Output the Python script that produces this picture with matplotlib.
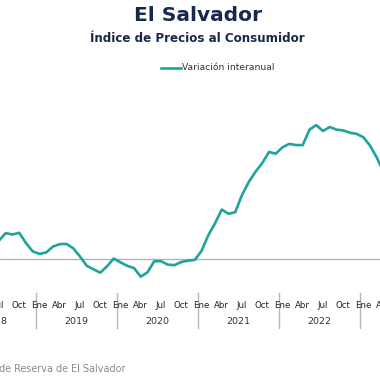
import matplotlib
matplotlib.use("Agg")
import matplotlib.pyplot as plt
import matplotlib.transforms as mtransforms

# Monthly year-on-year CPI variation (%) from Jun 2018 to Apr 2023
start_year, start_month = 2018, 6
values = [
    0.80, 1.05, 1.48, 1.40, 1.50, 0.90, 0.42,              # Jun-Dec 2018
    0.27, 0.36, 0.70, 0.84, 0.85, 0.60, 0.12, -0.42, -0.62, -0.82, -0.45, 0.00,   # 2019
    -0.22, -0.42, -0.55, -1.05, -0.80, -0.15, -0.15, -0.35, -0.38, -0.20, -0.12, -0.08,  # 2020
    0.45, 1.35, 2.05, 2.85, 2.60, 2.70, 3.70, 4.45, 5.05, 5.55, 6.20, 6.10,  # 2021
    6.47, 6.67, 6.60, 6.60, 7.50, 7.76, 7.42, 7.65, 7.50, 7.45, 7.32, 7.25,  # 2022
    7.05, 6.55, 5.85, 5.00,                                   # Jan-Apr 2023
]
month_labels = ["Ene", "Abr", "Jul", "Oct"]
month_label_idx = [0, 3, 6, 9]
years = [2018, 2019, 2020, 2021, 2022, 2023]
series_name = "Variación interanual"
title = "El Salvador"
subtitle = "Índice de Precios al Consumidor"
source = "Fuente: Banco Central de Reserva de El Salvador"

# month index relative to Jan 2019
offset = (start_year - 2019) * 12 + (start_month - 1)
xs = [offset + i for i in range(len(values))]

plt.rcParams['font.family'] = ['DejaVu Sans']

fig = plt.figure(figsize=(3.8, 3.8), dpi=100)
W = H = 380.0
px_per_month = 6.75
x0_px = 39.5
ax_left, ax_right = -x0_px / px_per_month, (W - x0_px) / px_per_month
ax_bottom_px, ax_top_px = 293.0, 86.6
ax = fig.add_axes([0, (H - ax_bottom_px) / H, 1, (ax_bottom_px - ax_top_px) / H])
ax.set_xlim(ax_left, ax_right)
ax.set_ylim(-2, 10)
ax.axis('off')

teal = '#1fa39b'
ax.axhline(0, color='#b3b3b3', lw=1.0, zorder=1)
ax.plot(xs, values, color=teal, lw=1.9, solid_joinstyle='round', solid_capstyle='round', zorder=3)

# x-axis category labels
trans = mtransforms.blended_transform_factory(ax.transData, fig.transFigure)
for yi, yr in enumerate(years):
    base = (yr - 2019) * 12
    for lab, mi in zip(month_labels, month_label_idx):
        ax.text(base + mi, 1 - 305 / H, lab, transform=trans, ha='center', va='center',
                fontsize=6.2, color='#222222', clip_on=False)
    ax.text(base + 5.5, 1 - 322 / H, str(yr), transform=trans, ha='center', va='center',
            fontsize=6.8, color='#333333', clip_on=False)
    sep = base - 0.5
    ax.plot([sep, sep], [1 - 293 / H, 1 - 328 / H], transform=trans, color='#b8b8b8',
            lw=1.0, clip_on=False)

navy = '#16294a'
fig.text(197.5 / W, 1 - 15.5 / H, title, ha='center', va='center', fontsize=14.5,
         fontweight='bold', color=navy)
fig.text(197.5 / W, 1 - 38 / H, subtitle, ha='center', va='center', fontsize=8.6,
         fontweight='bold', color=navy)

# legend
fig.lines.append(plt.Line2D([161 / W, 181 / W], [1 - 68 / H, 1 - 68 / H], color=teal, lw=1.9,
                            transform=fig.transFigure))
fig.text(182.5 / W, 1 - 68 / H, series_name, ha='left', va='center', fontsize=6.6, color='#333333')

fig.text(126 / W, 1 - 369 / H, source, ha='right', va='center', fontsize=6.9, color='#8a8a8a')

fig.savefig('out.png', dpi=100)
